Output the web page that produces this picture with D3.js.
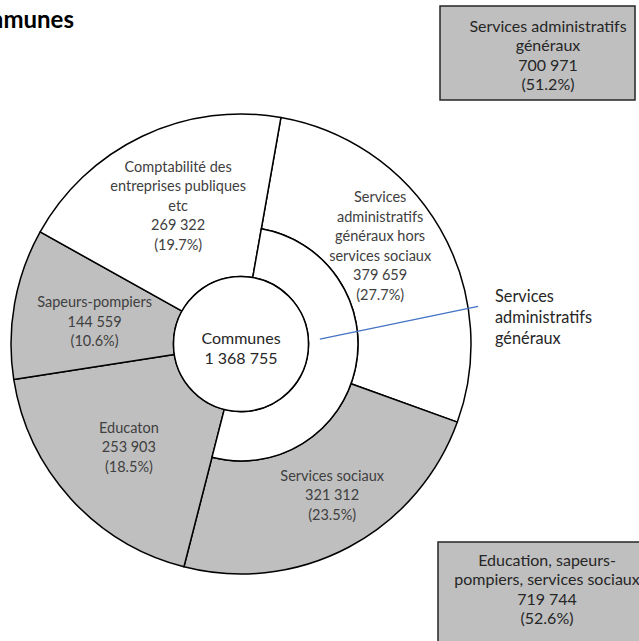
<!DOCTYPE html>
<html>
<head>
<meta charset="utf-8">
<script src="https://cdn.jsdelivr.net/npm/d3@7"></script>
<style>
  html, body { margin: 0; padding: 0; background: #fff; overflow: hidden; }
  svg { display: block; }
</style>
</head>
<body>
<svg id="chart" width="639" height="641"></svg>
<script>
// ---------- DATA ----------
const title = "Communes";
const totalLabel = "Communes";
const totalValue = 1368755;

// outer ring (clockwise from the top)
const outerNames = [
  ["Services", "administratifs", "généraux hors", "services sociaux"],
  ["Services sociaux"],
  ["Educaton"],
  ["Sapeurs-pompiers"],
  ["Comptabilité des", "entreprises publiques", "etc"]
];
const outerValues = [379659, 321312, 253903, 144559, 269322];
const outerGroup  = ["admin", "social", "other", "other", "admin"]; // fill group

// inner ring : one segment covering the first two outer segments
const innerName = ["Services", "administratifs", "généraux"];
const innerSpan = [0, 1]; // indices of outer segments it covers

// summary boxes
const boxNames = [
  ["Services administratifs", "généraux"],
  ["Education, sapeurs-", "pompiers, services sociaux"]
];
const boxValues = [700971, 719744];
const boxPercents = [51.2, 52.6];

// ---------- LAYOUT ----------
const cx = 241, cy = 344;
const r0 = 67.5, r1 = 117, r2 = 230;
const startDeg = 10;
const grey = "#bfbfbf";
const fontFam = "Lato, 'Open Sans', sans-serif";
const labelSize = 14.5, lineH = 19.5;
const boxSize = 16, boxLineH = 19.3;
// label nudges relative to arc centroids (px)
const labelNudge = [[-11, -12], [10, -3], [-2, 2], [0, 3], [1, -5]];

const svg = d3.select("#chart");
const fmtInt = d3.formatLocale({decimal: ".", thousands: "\u202F", grouping: [3], currency: ["", ""]}).format(",d");
const fmtPct = d3.format(".1f");

function multiline(g, lines, x, y, size, lh, color, anchor) {
  const t = g.append("text")
    .attr("x", x).attr("y", y)
    .attr("font-family", fontFam)
    .attr("font-size", size)
    .attr("fill", color)
    .attr("text-anchor", anchor || "middle")
    .attr("dominant-baseline", "central");
  const n = lines.length;
  lines.forEach((l, i) => {
    t.append("tspan").attr("x", x).attr("y", y + (i - (n - 1) / 2) * lh).text(l);
  });
  return t;
}

// title (partly outside the picture, as in the reference)
svg.append("text")
  .attr("x", 74).attr("y", 28)
  .attr("text-anchor", "end")
  .attr("font-family", fontFam)
  .attr("font-weight", "bold")
  .attr("font-size", 24)
  .attr("fill", "#000")
  .text(title);

const pie = d3.pie().sort(null).value(d => d)
  .startAngle(startDeg * Math.PI / 180)
  .endAngle(startDeg * Math.PI / 180 + 2 * Math.PI);
const arcs = pie(outerValues);

const g = svg.append("g").attr("transform", `translate(${cx},${cy})`);

const arcGen = d3.arc();
const isInnerCovered = i => innerSpan.includes(i);

// outer segments
g.selectAll("path.outer").data(arcs).join("path")
  .attr("class", "outer")
  .attr("d", (d, i) => arcGen({
    innerRadius: isInnerCovered(i) ? r1 : r0,
    outerRadius: r2,
    startAngle: d.startAngle, endAngle: d.endAngle
  }))
  .attr("fill", (d, i) => outerGroup[i] === "admin" ? "#ffffff" : grey)
  .attr("stroke", "#000")
  .attr("stroke-width", 1.5)
  .attr("stroke-linejoin", "round");

// inner ring segment
const innerArc = {
  innerRadius: r0, outerRadius: r1,
  startAngle: arcs[innerSpan[0]].startAngle,
  endAngle: arcs[innerSpan[innerSpan.length - 1]].endAngle
};
g.append("path")
  .attr("d", arcGen(innerArc))
  .attr("fill", "#fff")
  .attr("stroke", "#000")
  .attr("stroke-width", 1.5);

// center circle
g.append("circle").attr("r", r0).attr("fill", "#fff").attr("stroke", "#000").attr("stroke-width", 1.5);
multiline(g, [totalLabel, fmtInt(totalValue)], 0, 3, 16, 20, "#262626");

// outer labels
arcs.forEach((d, i) => {
  const ri = isInnerCovered(i) ? r1 : r0;
  const c = arcGen.centroid({innerRadius: ri, outerRadius: r2, startAngle: d.startAngle, endAngle: d.endAngle});
  const lines = outerNames[i].concat([fmtInt(d.value), "(" + fmtPct(d.value / totalValue * 100) + "%)"]);
  multiline(g, lines, c[0] + labelNudge[i][0], c[1] + labelNudge[i][1], labelSize, lineH, "#404040");
});

// leader line for inner ring label
const polar = (r, deg) => [r * Math.sin(deg * Math.PI / 180), -r * Math.cos(deg * Math.PI / 180)];
const p0 = polar(79, 86.4), p1 = polar(240, 81);
g.append("line")
  .attr("x1", p0[0]).attr("y1", p0[1]).attr("x2", p1[0]).attr("y2", p1[1])
  .attr("stroke", "#4472c4").attr("stroke-width", 1.3);
multiline(g, innerName, p1[0] + 17, p1[1] + 10, 16.3, 21, "#262626", "start");

// summary boxes
const boxes = [
  {x: 440, y: 6, w: 195, h: 94, tx: 548, ty: 54},
  {x: 438, y: 542, w: 230, h: 120, tx: 547, ty: 588}
];
boxes.forEach((b, i) => {
  svg.append("rect").attr("x", b.x).attr("y", b.y).attr("width", b.w).attr("height", b.h)
    .attr("fill", grey).attr("stroke", "#262626").attr("stroke-width", 1.5);
  const lines = boxNames[i].concat([fmtInt(boxValues[i]), "(" + fmtPct(boxPercents[i]) + "%)"]);
  multiline(svg, lines, b.tx, b.ty, boxSize, boxLineH, "#262626");
});
</script>
</body>
</html>
